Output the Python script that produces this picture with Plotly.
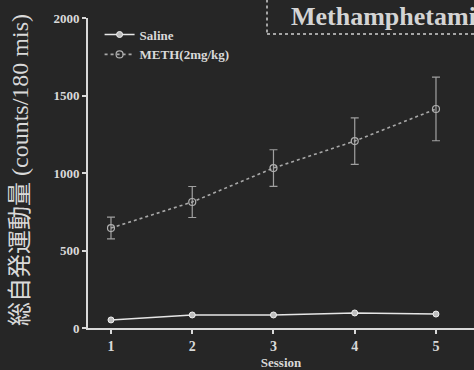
import plotly.graph_objects as go

sessions = [1, 2, 3, 4, 5]
saline = [52, 84, 84, 97, 90]
meth = [645, 813, 1032, 1206, 1413]
meth_err = [70, 100, 118, 150, 205]
y_ticks = [0, 500, 1000, 1500, 2000]

FG = "#d9d9d9"
BG = "#262626"
SERIF = "Liberation Serif, DejaVu Serif, serif"

fig = go.Figure()
fig.add_trace(go.Scatter(
    x=sessions, y=saline, name="Saline", mode="lines+markers",
    line=dict(color="#e6e6e6", width=1.6),
    marker=dict(symbol="circle", size=6, color="#bdbdbd", line=dict(color="#f0f0f0", width=1)),
))
fig.add_trace(go.Scatter(
    x=sessions, y=meth, name="METH(2mg/kg)", mode="lines+markers",
    line=dict(color="#a8a8a8", width=1.6, dash="dot"),
    marker=dict(symbol="circle-open", size=7, color="#b0b0b0", line=dict(width=1.2)),
    error_y=dict(type="data", array=meth_err, visible=True, color="#a0a0a0", thickness=1.2, width=4),
))

fig.update_layout(
    width=474, height=370,
    margin=dict(l=88, r=0, t=18, b=42),
    paper_bgcolor=BG, plot_bgcolor=BG,
    font=dict(family=SERIF, color=FG, size=12),
    showlegend=True,
    legend=dict(x=0.03, y=0.995, xanchor="left", yanchor="top", bgcolor="rgba(0,0,0,0)",
                font=dict(family=SERIF, size=13, color=FG, weight="bold"),
                tracegroupgap=0, itemwidth=30),
    xaxis=dict(range=[0.717, 5.468], tickvals=sessions, showgrid=False, zeroline=False,
               showline=True, linecolor=FG, linewidth=2, ticks="outside", ticklen=4,
               tickcolor=FG, tickwidth=2,
               tickfont=dict(family=SERIF, size=14, color=FG, weight="bold"),
               title=dict(text="Session", font=dict(family=SERIF, size=13, color=FG, weight="bold"), standoff=8)),
    yaxis=dict(range=[0, 2000], tickvals=y_ticks, showgrid=False, zeroline=False,
               showline=True, linecolor=FG, linewidth=2, ticks="outside", ticklen=4,
               tickcolor=FG, tickwidth=2,
               tickfont=dict(family=SERIF, size=13, color=FG, weight="bold")),
)

fig.add_annotation(
    text="総自発運動量 (counts/180 mis)", xref="paper", yref="paper",
    x=-0.176, y=0.51, xanchor="center", yanchor="middle", textangle=-90, showarrow=False,
    font=dict(family="Liberation Serif, Noto Sans CJK JP, serif", size=24, color=FG),
)

fig.add_shape(type="rect", xref="paper", yref="paper",
              x0=(267 - 88) / 386, x1=1.2, y0=(328 - 34) / 310, y1=1.2,
              line=dict(color="#cfcfcf", width=1.5, dash="dot"), fillcolor="rgba(0,0,0,0)")
fig.add_annotation(
    text="Methamphetamine", xref="paper", yref="paper",
    x=(289 - 88) / 386, y=(328 - 16) / 310, xanchor="left", yanchor="middle", showarrow=False,
    font=dict(family=SERIF, size=26, color="#d4d4d4", weight="bold"),
)

fig.write_html("out.html")
